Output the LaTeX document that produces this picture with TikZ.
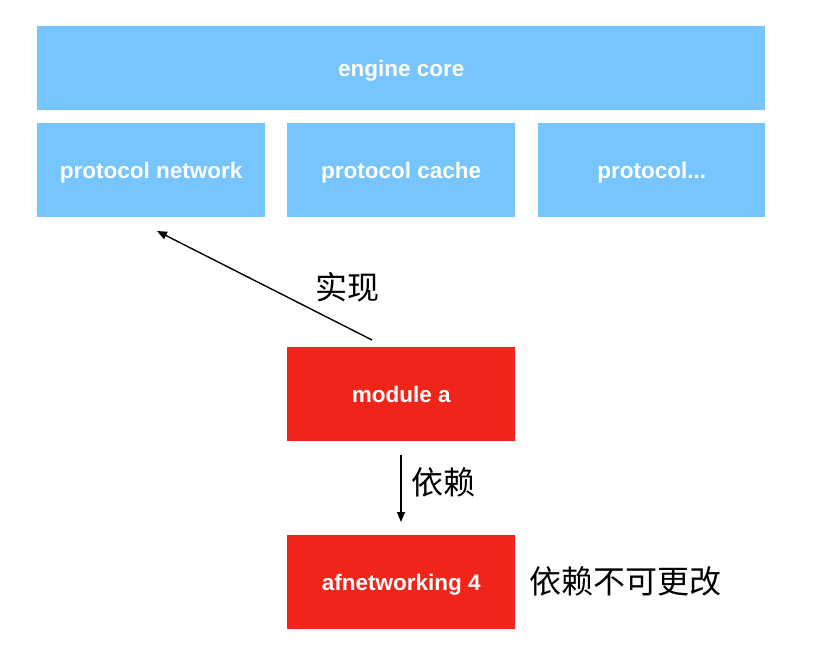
\documentclass[tikz,border=0pt]{standalone}
\usepackage{fontspec}
\setmainfont{Liberation Sans}
\newfontfamily\cjk{Noto Sans CJK SC}
\usetikzlibrary{arrows.meta}
\definecolor{boxblue}{HTML}{76C5FF}
\definecolor{boxred}{HTML}{F02419}
\begin{document}
\begin{tikzpicture}[x=1pt,y=-1pt,
  bluebox/.style={fill=boxblue,draw=none,text=white,font=\fontsize{22.5}{26}\selectfont\bfseries,anchor=north west,inner sep=0pt,text depth=0pt},
  redbox/.style={fill=boxred,draw=none,text=white,font=\fontsize{22.5}{26}\selectfont\bfseries,anchor=north west,inner sep=0pt,minimum width=228pt,minimum height=94pt},
  lbl/.style={font=\fontsize{32}{36}\selectfont\cjk,text=black,inner sep=0pt},
  arr/.style={-{Triangle[length=10pt,width=8pt]},line width=1.4pt}]
\useasboundingbox (0,0) rectangle (834,658);
\node[bluebox,minimum width=728pt,minimum height=84pt] (core) at (37,26) {engine core};
\node[bluebox,minimum width=228pt,minimum height=94pt] (pnet) at (37,123) {protocol network};
\node[bluebox,minimum width=228pt,minimum height=94pt] (pcache) at (287,123) {protocol cache};
\node[bluebox,minimum width=227pt,minimum height=94pt] (pmore) at (538,123) {protocol...};
\node[redbox] (moda) at (287,347) {module a};
\node[redbox,text depth=0pt] (afn) at (287,535) {afnetworking 4};
\coordinate (s1) at (372,340);
\coordinate (e1) at (157,231);
\draw[arr] (s1) -- (e1);
\node[lbl] (impl) at (347,287) {实现};
\coordinate (s2) at (401,455);
\coordinate (e2) at (401,522);
\draw[arr] (s2) -- (e2);
\node[lbl] (dep) at (443,482) {依赖};
\node[lbl] (fixed) at (625,581) {依赖不可更改};
\end{tikzpicture}
\end{document}
